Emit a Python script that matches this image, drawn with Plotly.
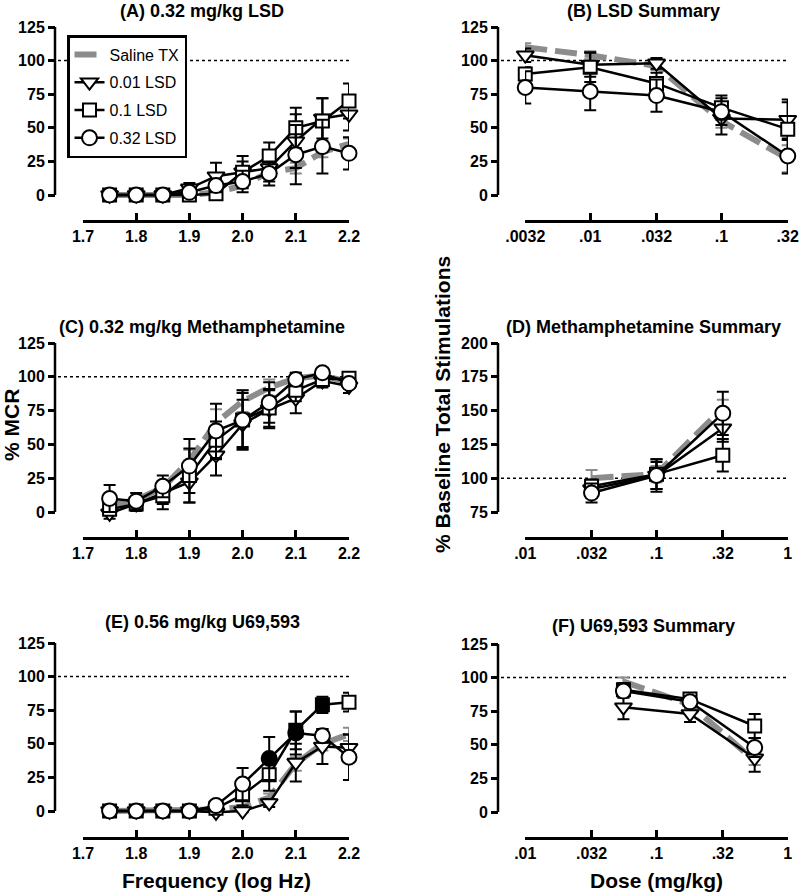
import math
import plotly.graph_objects as go

W, H = 800, 895
FONT = "Liberation Sans, Arial, Helvetica, sans-serif"

# ---------------- data ----------------
series_names = ["Saline TX", "0.01 LSD", "0.1 LSD", "0.32 LSD"]

freq = [1.75, 1.80, 1.85, 1.90, 1.95, 2.00, 2.05, 2.10, 2.15, 2.20]
freq_ticks = [1.7, 1.8, 1.9, 2.0, 2.1, 2.2]
freq_ticktext = ["1.7", "1.8", "1.9", "2.0", "2.1", "2.2"]

# (A) 0.32 mg/kg LSD
sal_A = [0, 0, 0, 0, 2, 7, 17, 20, 32, 38]
sal_A_err = [0, 0, 0, 0, 1, 2, 3, 4, 4, 4]
t_A = [0, 0, 0, 5, 14, 17, 20, 40, 57, 60]
t_A_err = [0, 0, 0, 4, 10, 12, 10, 20, 15, 12]
sq_A = [0, 0, 0, 0, 1, 17, 29, 50, 55, 70]
sq_A_err = [0, 0, 0, 1, 2, 8, 10, 15, 17, 13]
c_A = [0, 0, 0, 2, 7, 10, 16, 30, 36, 31]
c_A_err = [0, 0, 0, 2, 5, 8, 9, 22, 20, 12]

# (B) LSD Summary
dose_B = [0.0032, 0.01, 0.032, 0.1, 0.32]
dose_B_ticks = [0.0032, 0.01, 0.032, 0.1, 0.32]
dose_B_ticktext = [".0032", ".01", ".032", ".1", ".32"]
sal_B = [110, 104, 96, 55, 27]
sal_B_err = [3, 3, 3, 5, 10]
t_B = [104, 97, 98, 57, 56]
t_B_err = [5, 9, 4, 12, 15]
sq_B = [90, 95, 83, 65, 49]
sq_B_err = [5, 11, 8, 9, 20]
c_B = [80, 77, 74, 62, 29]
c_B_err = [12, 14, 12, 10, 13]

# (C) 0.32 mg/kg Methamphetamine
sal_C = [5, 9, 18, 38, 66, 82, 92, 99, 101, 96]
sal_C_err = [3, 3, 5, 8, 10, 8, 6, 4, 3, 3]
t_C = [-1, 6, 14, 22, 42, 65, 76, 84, 97, 93]
t_C_err = [4, 5, 8, 15, 15, 18, 14, 11, 5, 5]
sq_C = [2, 6, 12, 27, 53, 68, 77, 90, 98, 99]
sq_C_err = [4, 5, 10, 20, 14, 20, 14, 8, 4, 4]
c_C = [10, 8, 19, 34, 60, 68, 81, 98, 103, 95]
c_C_err = [10, 6, 8, 20, 20, 22, 15, 5, 3, 3]

# (D) Methamphetamine Summary
dose_D = [0.032, 0.1, 0.32]
dose_ticks = [0.01, 0.032, 0.1, 0.32, 1]
dose_ticktext = [".01", ".032", ".1", ".32", "1"]
sal_D = [100, 103, 152]
sal_D_err = [6, 6, 6]
t_D = [92, 102, 137]
t_D_err = [6, 10, 10]
sq_D = [94, 103, 117]
sq_D_err = [5, 11, 12]
c_D = [89, 102, 148]
c_D_err = [7, 12, 16]

# (E) 0.56 mg/kg U69,593
sal_E = [0, 0, 0, 0, 1, 3, 10, 35, 50, 57]
sal_E_err = [0, 0, 0, 0, 1, 1, 3, 5, 5, 5]
t_E = [0, 0, 0, 0, -1, 0, 6, 36, 48, 47]
t_E_err = [0, 0, 0, 0, 1, 1, 3, 14, 13, 10]
sq_E = [0, 0, 0, 0, 2, 12, 27, 60, 79, 81]
sq_E_err = [0, 0, 0, 0, 2, 8, 12, 14, 6, 7]
sq_E_sig = [0, 0, 0, 0, 0, 0, 0, 1, 1, 0]
c_E = [0, 0, 0, 0, 4, 20, 39, 58, 56, 40]
c_E_err = [0, 0, 0, 0, 2, 12, 16, 16, 5, 17]
c_E_sig = [0, 0, 0, 0, 0, 0, 1, 1, 0, 0]

# (F) U69,593 Summary
dose_F = [0.056, 0.18, 0.56]
sal_F = [97, 80, 38]
sal_F_err = [3, 3, 3]
t_F = [78, 73, 40]
t_F_err = [9, 6, 10]
sq_F = [91, 84, 64]
sq_F_err = [5, 4, 9]
c_F = [90, 82, 48]
c_F_err = [5, 4, 7]

y_ticks_pct = [0, 25, 50, 75, 100, 125]
y_ticks_D = [75, 100, 125, 150, 175, 200]

# ---------------- layout helpers ----------------
def fx(px):
    return px / W


def fy(py):
    return 1 - py / H


BLACK = "black"
GRAY = "#8c8c8c"
AX_W = 2.5
EPS = 0.002  # keeps end points just inside the log ranges

panels = [
    dict(n=1, title="(A) 0.32 mg/kg LSD", title_y=11, yline=55, x0=83, x1=349,
         ytop_px=27, ytop=125, ybot_px=195, ybot=0, xline=221, xtype="linear",
         xrange=[1.7, 2.2], xt=freq_ticks, xtt=freq_ticktext, yt=y_ticks_pct,
         x=freq, data=[(sal_A, sal_A_err), (t_A, t_A_err), (sq_A, sq_A_err), (c_A, c_A_err)],
         sig=None),
    dict(n=2, title="(B) LSD Summary", title_y=11, yline=498, x0=525, x1=788,
         ytop_px=27, ytop=125, ybot_px=195, ybot=0, xline=221, xtype="log",
         xrange=[math.log10(0.0032) - EPS, math.log10(0.32) + EPS], xt=dose_B_ticks,
         xtt=dose_B_ticktext, yt=y_ticks_pct, x=dose_B,
         data=[(sal_B, sal_B_err), (t_B, t_B_err), (sq_B, sq_B_err), (c_B, c_B_err)], sig=None),
    dict(n=3, title="(C) 0.32 mg/kg Methamphetamine", title_y=327, yline=55, x0=83, x1=349,
         ytop_px=343, ytop=125, ybot_px=512, ybot=0, xline=538, xtype="linear",
         xrange=[1.7, 2.2], xt=freq_ticks, xtt=freq_ticktext, yt=y_ticks_pct,
         x=freq, data=[(sal_C, sal_C_err), (t_C, t_C_err), (sq_C, sq_C_err), (c_C, c_C_err)],
         sig=None),
    dict(n=4, title="(D) Methamphetamine Summary", title_y=327, yline=498, x0=525, x1=788,
         ytop_px=343, ytop=200, ybot_px=512, ybot=75, xline=538, xtype="log",
         xrange=[-2 - EPS, 0 + EPS], xt=dose_ticks, xtt=dose_ticktext, yt=y_ticks_D,
         x=dose_D, data=[(sal_D, sal_D_err), (t_D, t_D_err), (sq_D, sq_D_err), (c_D, c_D_err)],
         sig=None),
    dict(n=5, title="(E) 0.56 mg/kg U69,593", title_y=622, yline=55, x0=83, x1=349,
         ytop_px=643, ytop=125, ybot_px=811, ybot=0, xline=838, xtype="linear",
         xrange=[1.7, 2.2], xt=freq_ticks, xtt=freq_ticktext, yt=y_ticks_pct,
         x=freq, data=[(sal_E, sal_E_err), (t_E, t_E_err), (sq_E, sq_E_err), (c_E, c_E_err)],
         sig=[None, None, sq_E_sig, c_E_sig]),
    dict(n=6, title="(F) U69,593 Summary", title_y=626, yline=498, x0=525, x1=788,
         ytop_px=644, ytop=125, ybot_px=812, ybot=0, xline=838, xtype="log",
         xrange=[-2 - EPS, 0 + EPS], xt=dose_ticks, xtt=dose_ticktext, yt=y_ticks_pct,
         x=dose_F, data=[(sal_F, sal_F_err), (t_F, t_F_err), (sq_F, sq_F_err), (c_F, c_F_err)],
         sig=None),
]

symbols = [None, "triangle-down", "square", "circle"]
sizes = [None, 15, 13, 15]

fig = go.Figure()
shapes = []
annotations = []
layout_axes = {}

tickfont = dict(family=FONT, size=16, color=BLACK, weight="bold")

for p in panels:
    n = p["n"]
    xs = "x" if n == 1 else f"x{n}"
    ys = "y" if n == 1 else f"y{n}"
    xkey = "xaxis" if n == 1 else f"xaxis{n}"
    ykey = "yaxis" if n == 1 else f"yaxis{n}"

    s = (p["ybot_px"] - p["ytop_px"]) / (p["ytop"] - p["ybot"])  # px per unit
    extra_top = 10
    r_lo = p["ybot"] - (p["xline"] - p["ybot_px"]) / s
    r_hi = p["ytop"] + extra_top / s

    layout_axes[xkey] = dict(
        domain=[fx(p["x0"]), fx(p["x1"])], anchor="free", position=fy(p["xline"]),
        type=p["xtype"], range=p["xrange"], tickvals=p["xt"], ticktext=p["xtt"],
        showline=True, linecolor=BLACK, linewidth=AX_W, ticks="inside", ticklen=7,
        tickwidth=AX_W, tickcolor=BLACK, showgrid=False, zeroline=False,
        tickfont=tickfont, fixedrange=True, automargin=False,
    )
    layout_axes[ykey] = dict(
        domain=[fy(p["xline"]), fy(p["ytop_px"] - extra_top)], anchor="free",
        position=fx(p["yline"]), range=[r_lo, r_hi], tickvals=p["yt"],
        showline=False, ticks="outside", ticklen=7, tickwidth=AX_W, tickcolor=BLACK,
        showgrid=False, zeroline=False, tickfont=tickfont, fixedrange=True,
        automargin=False,
    )
    # y-axis line (only spans tick range)
    shapes.append(dict(type="line", xref="paper", yref=ys, x0=fx(p["yline"]), x1=fx(p["yline"]),
                       y0=p["ybot"], y1=p["ytop"], line=dict(color=BLACK, width=AX_W), layer="above"))
    # dotted 100% reference
    shapes.append(dict(type="line", xref="paper", yref=ys, x0=fx(p["yline"] + 3), x1=fx(p["x1"]),
                       y0=100, y1=100, line=dict(color=BLACK, width=1.5, dash="dot"), layer="below"))
    # title
    annotations.append(dict(text=p["title"], xref="paper", yref="paper",
                            x=fx((p["yline"] + p["x1"]) / 2), y=fy(p["title_y"]),
                            xanchor="center", yanchor="middle", showarrow=False,
                            font=dict(family=FONT, size=18, color=BLACK, weight="bold")))

    for i, (vals, errs) in enumerate(p["data"]):
        show = n == 1
        if i == 0:
            fig.add_trace(go.Scatter(
                x=p["x"], y=vals, xaxis=xs, yaxis=ys, name=series_names[i],
                mode="lines", line=dict(color=GRAY, width=6, dash="22px,8px"),
                error_y=dict(type="data", array=errs, color=GRAY, thickness=2, width=6),
                showlegend=show, legendgroup=series_names[i],
            ))
        else:
            sig = p["sig"][i] if p["sig"] else None
            fill = [BLACK if v else "white" for v in sig] if sig else "white"
            fig.add_trace(go.Scatter(
                x=p["x"], y=vals, xaxis=xs, yaxis=ys, name=series_names[i],
                mode="lines+markers", line=dict(color=BLACK, width=2.5),
                marker=dict(symbol=symbols[i], size=sizes[i], color=fill,
                            line=dict(color=BLACK, width=2)),
                error_y=dict(type="data", array=errs, color=BLACK, thickness=2, width=6),
                cliponaxis=False, showlegend=show, legendgroup=series_names[i],
            ))

# axis titles
annotations.append(dict(text="% MCR", xref="paper", yref="paper", x=fx(11), y=fy(425),
                        xanchor="center", yanchor="middle", textangle=-90, showarrow=False,
                        font=dict(family=FONT, size=21, color=BLACK, weight="bold")))
annotations.append(dict(text="% Baseline Total Stimulations", xref="paper", yref="paper",
                        x=fx(442), y=fy(405), xanchor="center", yanchor="middle", textangle=-90,
                        showarrow=False,
                        font=dict(family=FONT, size=21, color=BLACK, weight="bold")))
annotations.append(dict(text="Frequency (log Hz)", xref="paper", yref="paper", x=fx(216),
                        y=fy(880), xanchor="center", yanchor="middle", showarrow=False,
                        font=dict(family=FONT, size=21, color=BLACK, weight="bold")))
annotations.append(dict(text="Dose (mg/kg)", xref="paper", yref="paper", x=fx(656),
                        y=fy(880), xanchor="center", yanchor="middle", showarrow=False,
                        font=dict(family=FONT, size=21, color=BLACK, weight="bold")))

fig.update_layout(
    width=W, height=H, margin=dict(l=0, r=0, t=0, b=0, autoexpand=False),
    paper_bgcolor="white", plot_bgcolor="rgba(0,0,0,0)",
    font=dict(family=FONT, color=BLACK),
    shapes=shapes, annotations=annotations,
    legend=dict(x=fx(67), y=fy(35), xanchor="left", yanchor="top",
                bordercolor=BLACK, borderwidth=2.5, bgcolor="white",
                font=dict(family=FONT, size=16, color=BLACK),
                tracegroupgap=4, itemwidth=30, traceorder="grouped"),
    **layout_axes,
)

# remove the browser's default 8px body margin so the figure fills the window
fig.write_html("out.html", config={"displayModeBar": False},
               post_script="document.body.style.margin='0';document.body.style.overflow='hidden';")
